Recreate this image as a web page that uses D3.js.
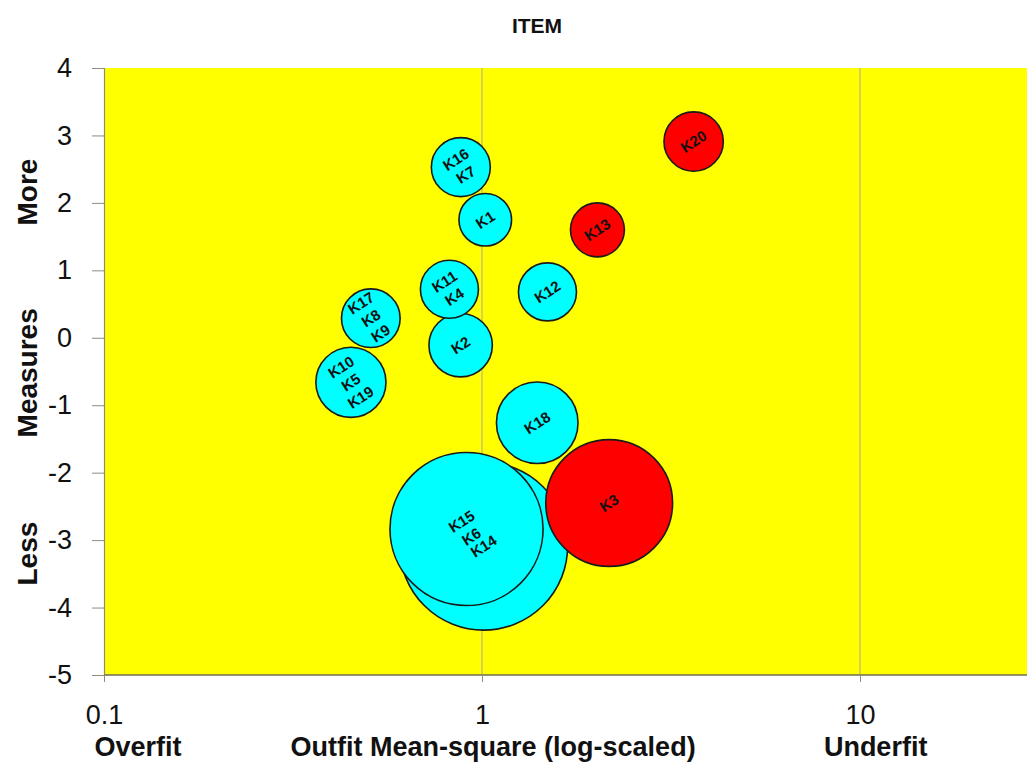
<!DOCTYPE html>
<html>
<head>
<meta charset="utf-8">
<script src="https://cdn.jsdelivr.net/npm/d3@7"></script>
<style>
  html, body { margin: 0; padding: 0; background: #fff; }
  svg { display: block; }
</style>
</head>
<body>
<script>
// ---- data ----
const bubbleLabels = [
  ["K14"], ["K15", "K6"], ["K3"], ["K18"], ["K10", "K5", "K19"], ["K2"],
  ["K16", "K7"], ["K11", "K4"], ["K12"], ["K17", "K8", "K9"], ["K1"], ["K13"], ["K20"]
];
const outfitValues  = [1.01, 0.91, 2.17, 1.40, 0.45, 0.878, 0.879, 0.82, 1.49, 0.508, 1.02, 2.02, 3.63];
const measureValues = [-3.09, -2.835, -2.45, -1.26, -0.66, -0.11, 2.53, 0.72, 0.68, 0.29, 1.75, 1.60, 2.91];
const seValues      = [1.245, 1.135, 0.94, 0.605, 0.52, 0.47, 0.437, 0.43, 0.43, 0.435, 0.39, 0.40, 0.44];
const fitClass      = ["ok", "ok", "misfit", "ok", "ok", "ok", "ok", "ok", "ok", "ok", "ok", "misfit", "misfit"];
const yTicks = [4, 3, 2, 1, 0, -1, -2, -3, -4, -5];
const xTicks = [0.1, 1, 10];
const xTickLabels = ["0.1", "1", "10"];
const yTitles = ["More", "Measures", "Less"];
const yTitleAt = [2.16, -0.52, -3.2];
const xTitles = ["Overfit", "Outfit Mean-square (log-scaled)", "Underfit"];
const xTitleAt = [0.123, 1.07, 11.0];

// ---- layout ----
const W = 1027, H = 771;
const mLeft = 104, mTop = 68, mBottom = 675, mRight = 1027;

const svg = d3.select("body").append("svg").attr("width", W).attr("height", H);

const x = d3.scaleLog().domain([0.1, 10]).range([mLeft, 860]);
const y = d3.scaleLinear().domain([-5, 4]).range([mBottom, mTop]);

const colorFor = d3.scaleOrdinal().domain(["ok", "misfit"]).range(["#00FFFF", "#FF0000"]);

// plot background
svg.append("rect").attr("x", mLeft).attr("y", mTop)
  .attr("width", mRight - mLeft).attr("height", mBottom - mTop)
  .attr("fill", "#FFFF00");

// vertical gridlines
svg.append("g").selectAll("line").data(xTicks.slice(1)).join("line")
  .attr("x1", d => x(d)).attr("x2", d => x(d))
  .attr("y1", mTop).attr("y2", mBottom)
  .attr("stroke", "#a8a8a0").attr("stroke-width", 1);

// y axis
const yAxis = d3.axisLeft(y).tickValues(yTicks).tickSize(12).tickPadding(8).tickFormat(d3.format("d"));
const gy = svg.append("g").attr("transform", `translate(${mLeft},0)`).call(yAxis);
gy.select(".domain").attr("stroke", "#8c8c80").attr("stroke-width", 1.2);
gy.selectAll(".tick line").attr("stroke", "#8c8c80");
gy.selectAll("text").attr("font-family", "Liberation Sans, Arial, sans-serif")
  .attr("font-size", 27).attr("fill", "#111").attr("x", -32)
  .text(d => d < 0 ? "-" + Math.abs(d) : d);

// x axis
const xAxis = d3.axisBottom(x).tickValues(xTicks).tickSize(7).tickFormat((d, i) => xTickLabels[i]);
const gx = svg.append("g").attr("transform", `translate(0,${mBottom})`).call(xAxis);
gx.select(".domain").attr("d", `M${mLeft},0H${mRight}`).attr("stroke", "#6e6e50").attr("stroke-width", 1.5);
gx.selectAll(".tick line").attr("stroke", "#8c8c80");
gx.selectAll("text").attr("font-family", "Liberation Sans, Arial, sans-serif")
  .attr("font-size", 27).attr("fill", "#111").attr("dy", null).attr("y", 49);

// x titles
svg.append("g").selectAll("text").data(xTitles).join("text")
  .attr("x", (d, i) => x(xTitleAt[i])).attr("y", 756)
  .attr("text-anchor", "middle")
  .attr("font-family", "Liberation Sans, Arial, sans-serif")
  .attr("font-weight", "bold").attr("font-size", 27).attr("fill", "#111")
  .text(d => d);

// y titles
svg.append("g").selectAll("text").data(yTitles).join("text")
  .attr("transform", (d, i) => `translate(37,${y(yTitleAt[i])}) rotate(-90)`)
  .attr("text-anchor", "middle")
  .attr("font-family", "Liberation Sans, Arial, sans-serif")
  .attr("font-weight", "bold").attr("font-size", 28).attr("fill", "#111")
  .text(d => d);

// title
svg.append("text").attr("x", 537).attr("y", 33).attr("text-anchor", "middle")
  .attr("font-family", "Liberation Sans, Arial, sans-serif")
  .attr("font-weight", "bold").attr("font-size", 21).attr("fill", "#111")
  .text("ITEM");

// bubbles
const bubbles = bubbleLabels.map((lab, i) => ({
  labels: lab, outfit: outfitValues[i], measure: measureValues[i],
  se: seValues[i], cls: fitClass[i]
}));
const rOf = d => y(0) - y(d.se);

const plot = svg.append("g");
plot.selectAll("circle").data(bubbles).join("circle")
  .attr("cx", d => x(d.outfit)).attr("cy", d => y(d.measure))
  .attr("r", rOf)
  .attr("fill", d => colorFor(d.cls))
  .attr("stroke", "#1a1a1a").attr("stroke-width", 1.6);

const lineGap = 18;
const lg = plot.selectAll("g.lab").data(bubbles).join("g").attr("class", "lab")
  .attr("transform", d => `translate(${x(d.outfit)},${y(d.measure)}) rotate(-33)`);
lg.selectAll("text").data(d => d.labels.map((t, j) => ({ t, j, n: d.labels.length })))
  .join("text")
  .attr("x", 0)
  .attr("y", d => (d.j - (d.n - 1) / 2) * lineGap)
  .attr("dy", "0.35em")
  .attr("text-anchor", "middle")
  .attr("font-family", "Liberation Sans, Arial, sans-serif")
  .attr("font-weight", "bold").attr("font-size", 15).attr("fill", "#111")
  .text(d => d.t);
</script>
</body>
</html>
